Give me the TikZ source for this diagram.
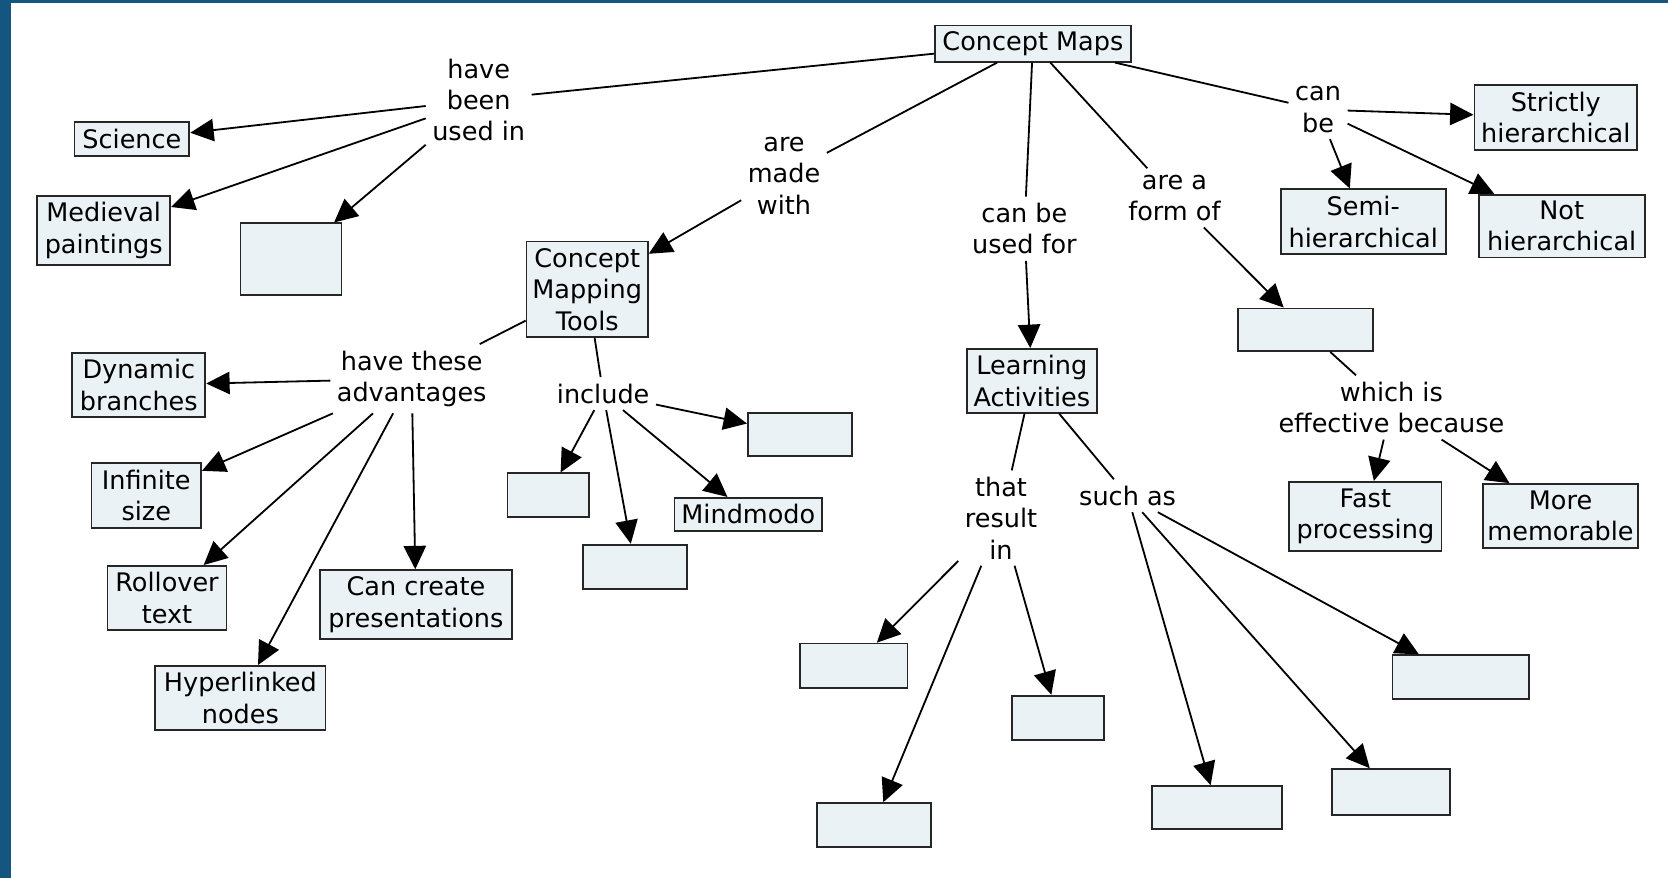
\documentclass[tikz,border=0pt]{standalone}
\usepackage{fontspec}
\setmainfont{DejaVu Sans}
\usetikzlibrary{arrows.meta}
\definecolor{framecol}{RGB}{20,86,128}
\definecolor{boxfill}{RGB}{235,242,245}
\begin{document}
\begin{tikzpicture}[x=1pt,y=-1pt,
  txt/.style={font=\fontsize{24}{29.5}\selectfont},
  concept/.style={txt, draw=black!85, fill=boxfill, line width=1.7pt, align=center, inner sep=2pt},
  link/.style={txt, align=center, inner sep=6pt},
  rel/.style={line width=1.7pt},
  arr/.style={rel, -{Triangle[length=22pt,width=21pt]}},
]
% page, frame strips
\fill[white] (0,0) rectangle (1568,825);
\fill[framecol] (0,0) rectangle (10,825);
\fill[framecol] (0,0) rectangle (1568,3);
\useasboundingbox (0,0) rectangle (1568,825);

% ---- concepts ----
\node[concept, minimum width=184pt, minimum height=34pt] (cm)   at (971,41)    {Concept Maps};
\node[concept, minimum width=108pt, minimum height=32pt] (sci)  at (124,131)   {Science};
\node[concept, minimum width=125pt, minimum height=65pt] (med)  at (97.5,216.5) {Medieval\\paintings};
\node[concept, minimum width=95pt,  minimum height=67pt] (ea)   at (273.5,243.5) {};
\node[concept, minimum width=114pt, minimum height=90pt] (cmt)  at (552,272)   {Concept\\Mapping\\Tools};
\node[concept, minimum width=125pt, minimum height=60pt] (dyn)  at (130.5,362) {Dynamic\\branches};
\node[concept, minimum width=103pt, minimum height=61pt] (inf)  at (137.5,465.5) {Infinite\\size};
\node[concept, minimum width=112pt, minimum height=60pt] (rol)  at (157,562)   {Rollover\\text};
\node[concept, minimum width=160pt, minimum height=60pt] (hyp)  at (226,656)   {Hyperlinked\\nodes};
\node[concept, minimum width=180pt, minimum height=65pt] (pres) at (391,568.5) {Can create\\presentations};
\node[concept, minimum width=77pt,  minimum height=41pt] (eb)   at (515.5,465.5) {};
\node[concept, minimum width=98pt,  minimum height=42pt] (ec)   at (597,533)   {};
\node[concept, minimum width=139pt, minimum height=31pt] (mm)   at (703.5,483.5) {Mindmodo};
\node[concept, minimum width=98pt,  minimum height=41pt] (ed)   at (752,408.5) {};
\node[concept, minimum width=122pt, minimum height=60pt] (la)   at (970,358)   {Learning\\Activities};
\node[concept, minimum width=101pt, minimum height=42pt] (ee)   at (802.5,626) {};
\node[concept, minimum width=107pt, minimum height=41pt] (ef)   at (821.5,775.5) {};
\node[concept, minimum width=87pt,  minimum height=42pt] (eg)   at (994.5,675) {};
\node[concept, minimum width=122pt, minimum height=40pt] (eh)   at (1144,759)  {};
\node[concept, minimum width=111pt, minimum height=43pt] (ei)   at (1307.5,744.5) {};
\node[concept, minimum width=128pt, minimum height=41pt] (ej)   at (1373,636.5) {};
\node[concept, minimum width=127pt, minimum height=40pt] (ek)   at (1227.5,310) {};
\node[concept, minimum width=143pt, minimum height=65pt] (fast) at (1283.5,485.5) {Fast\\processing};
\node[concept, minimum width=146pt, minimum height=60pt] (more) at (1467,485)  {More\\memorable};
\node[concept, minimum width=153pt, minimum height=61pt] (str)  at (1462.5,110.5) {Strictly\\hierarchical};
\node[concept, minimum width=155pt, minimum height=61pt] (semi) at (1281.5,208.5) {Semi-\\hierarchical};
\node[concept, minimum width=156pt, minimum height=59pt] (noth) at (1468,212.5) {Not\\hierarchical};

% ---- linking phrases ----
\node[link] (hb)   at (450,94)   {have\\been\\used in};
\node[link] (amw)  at (737,165)  {are\\made\\with};
\node[link] (hta)  at (387,356)  {have these\\advantages};
\node[link] (inc)  at (567,370)  {include};
\node[link] (cbuf) at (963,215)  {can be\\used for};
\node[link] (tri)  at (941,487)  {that\\result\\in};
\node[link] (sa)   at (1060,466) {such as};
\node[link] (aaf)  at (1104,186) {are a\\form of};
\node[link] (wieb) at (1308,383) {which is\\effective because};
\node[link] (cb)   at (1239,103) {can\\be};

% ---- connectors ----
\draw[rel] (cm) -- (hb);
\draw[arr] (hb) -- (sci);
\draw[arr] (hb) -- (med);
\draw[arr] (hb) -- (ea);

\draw[rel] (cm) -- (amw);
\draw[arr] (amw) -- (cmt);
\draw[rel] (cmt) -- (hta);
\draw[arr] (hta) -- (dyn);
\draw[arr] (hta) -- (inf);
\draw[arr] (hta) -- (rol);
\draw[arr] (hta) -- (hyp);
\draw[arr] (hta) -- (pres);
\draw[rel] (cmt) -- (inc);
\draw[arr] (inc) -- (eb);
\draw[arr] (inc) -- (ec);
\draw[arr] (inc) -- (mm);
\draw[arr] (inc) -- (ed);

\draw[rel] (cm) -- (cbuf);
\draw[arr] (cbuf) -- (la);
\draw[rel] (la) -- (tri);
\draw[arr] (tri) -- (ee);
\draw[arr] (tri) -- (ef);
\draw[arr] (tri) -- (eg);
\draw[rel] (la) -- (sa);
\draw[arr] (sa) -- (eh);
\draw[arr] (sa) -- (ei);
\draw[arr] (sa) -- (ej);

\draw[rel] (cm) -- (aaf);
\draw[arr] (aaf) -- (ek);
\draw[rel] (ek) -- (wieb);
\draw[arr] (wieb) -- (fast);
\draw[arr] (wieb) -- (more);

\draw[rel] (cm) -- (cb);
\draw[arr] (cb) -- (str);
\draw[arr] (cb) -- (semi);
\draw[arr] (cb) -- (noth);
\end{tikzpicture}
\end{document}
